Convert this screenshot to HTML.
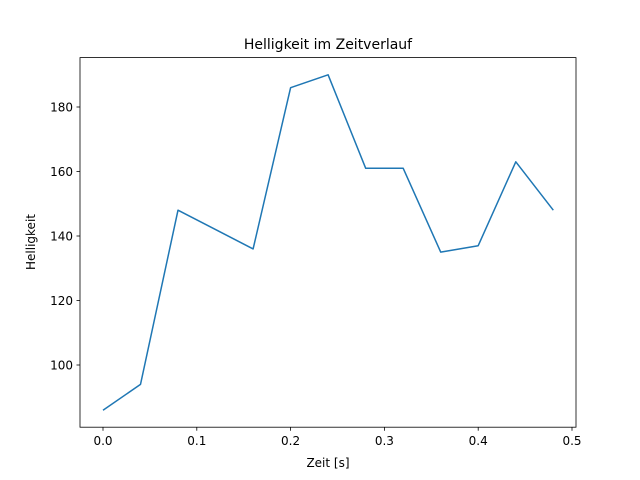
<!DOCTYPE html>
<html><head><meta charset="utf-8"><style>body{margin:0;background:#fff}svg{display:block}text{font-family:"DejaVu Sans","Liberation Sans",sans-serif;fill:#000}</style></head><body>
<svg width="640" height="480" viewBox="0 0 640 480" xmlns="http://www.w3.org/2000/svg">
<rect width="640" height="480" fill="#fff"/>
<polyline fill="none" stroke="#1f77b4" stroke-width="1.5" stroke-linejoin="round" points="103,410.2 140.5,384.4 178,210.2 215.6,229.6 253.1,248.9 290.6,87.7 328.1,74.8 365.7,168.3 403.2,168.3 440.7,252.1 478.2,245.7 515.8,161.8 553.3,210.2"/>
<rect x="80" y="57.6" width="496" height="369.6" fill="none" stroke="#000" stroke-width="0.8"/>
<g stroke="#000" stroke-width="0.8">
<line x1="103" y1="427.2" x2="103" y2="430.7"/><line x1="196.8" y1="427.2" x2="196.8" y2="430.7"/><line x1="290.6" y1="427.2" x2="290.6" y2="430.7"/><line x1="384.4" y1="427.2" x2="384.4" y2="430.7"/><line x1="478.2" y1="427.2" x2="478.2" y2="430.7"/><line x1="572" y1="427.2" x2="572" y2="430.7"/>
<line x1="76.5" y1="365" x2="80" y2="365"/><line x1="76.5" y1="300.5" x2="80" y2="300.5"/><line x1="76.5" y1="236" x2="80" y2="236"/><line x1="76.5" y1="171.5" x2="80" y2="171.5"/><line x1="76.5" y1="107" x2="80" y2="107"/>
</g>
<g font-size="12" text-anchor="middle">
<text x="103" y="445">0.0</text><text x="196.8" y="445">0.1</text><text x="290.6" y="445">0.2</text><text x="384.4" y="445">0.3</text><text x="478.2" y="445">0.4</text><text x="572" y="445">0.5</text>
</g>
<g font-size="12" text-anchor="end">
<text x="73" y="369.3">100</text><text x="73" y="304.8">120</text><text x="73" y="240.3">140</text><text x="73" y="175.8">160</text><text x="73" y="111.3">180</text>
</g>
<text x="328" y="467" font-size="12" text-anchor="middle">Zeit [s]</text>
<text x="35" y="242" font-size="12" text-anchor="middle" transform="rotate(-90 35 242)">Helligkeit</text>
<text x="328" y="49" font-size="14" text-anchor="middle">Helligkeit im Zeitverlauf</text>
</svg>
</body></html>
